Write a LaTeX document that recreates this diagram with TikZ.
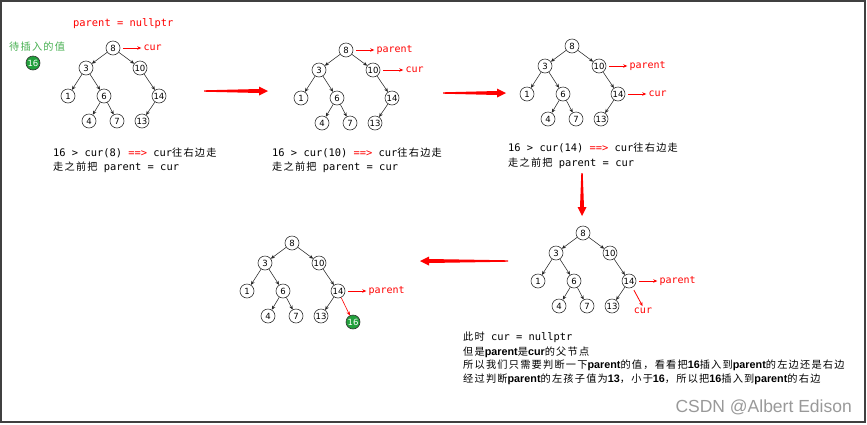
\documentclass[tikz,border=0pt]{standalone}
\usepackage{fontspec}
\setmainfont{DejaVu Sans}
\setmonofont{DejaVu Sans Mono}
\newfontfamily\zhfont[Scale=0.98,LetterSpace=12]{Noto Sans CJK SC}
\newfontfamily\lsans{Liberation Sans}
\usetikzlibrary{arrows.meta,positioning}
\definecolor{insgreen}{RGB}{34,160,60}
\definecolor{txtgreen}{RGB}{70,175,80}
\definecolor{hotred}{RGB}{255,0,0}
\newcommand{\zhtxt}[1]{{\zhfont #1}}
\newcommand{\lb}[1]{{\lsans\bfseries\fontsize{10.8}{12}\selectfont #1}}
\tikzset{
  num/.style={circle, draw=black!80, line width=0.6pt, minimum size=14pt, inner sep=0pt, font=\fontsize{8.5}{8.5}\selectfont},
  ins/.style={num, fill=insgreen, text=white},
  edge/.style={black!85, line width=0.55pt, -{Stealth[length=4pt,width=3.5pt]}},
  lbl/.style={text=hotred, inner sep=1pt, font=\ttfamily\fontsize{10}{12}\selectfont},
  lblarrow/.style={hotred, line width=0.8pt, -{Stealth[length=4pt,width=3.5pt]}, shorten <=3pt, shorten >=1pt},
  note/.style={anchor=west, inner sep=0pt, font=\ttfamily\fontsize{10.4}{12}\selectfont},
}
% the search tree, root at (#2,#3), node names prefixed with #1
\newcommand{\bstree}[3]{%
  \begin{scope}[shift={(#2,#3)}]
  \node[num] (#1n8) at (0,0) {8};
  \node[num] (#1n3) at (-27,20) {3};
  \node[num] (#1n10) at (27,20) {10};
  \node[num] (#1n1) at (-45,48) {1};
  \node[num] (#1n6) at (-9,48) {6};
  \node[num] (#1n14) at (46,48) {14};
  \node[num] (#1n4) at (-24,73) {4};
  \node[num] (#1n7) at (4,73) {7};
  \node[num] (#1n13) at (29,73) {13};
  \draw[edge] (#1n8) -- (#1n3);
  \draw[edge] (#1n8) -- (#1n10);
  \draw[edge] (#1n3) -- (#1n1);
  \draw[edge] (#1n3) -- (#1n6);
  \draw[edge] (#1n6) -- (#1n4);
  \draw[edge] (#1n6) -- (#1n7);
  \draw[edge] (#1n10) -- (#1n14);
  \draw[edge] (#1n14) -- (#1n13);
  \end{scope}}
% tapered red arrow: start #1, length #2, angle #3
\newcommand{\fatarrow}[3]{%
  \fill[hotred, shift={#1}, rotate=#3] (0,-0.7) -- (#2-9,-2) -- (#2-9,-4.5) -- (#2,0) -- (#2-9,4.5) -- (#2-9,2) -- (0,0.7) -- cycle;}

\begin{document}
\begin{tikzpicture}[x=1pt,y=-1pt]
\useasboundingbox (0,0) rectangle (867,424);
\draw[black!75, line width=1.2pt] (1,1) rectangle (865,422);

% step 1
\node[note, text=hotred] (null) at (73,24) {parent = nullptr};
\node[anchor=west, inner sep=0pt, text=txtgreen, font=\fontsize{10.4}{12}\selectfont] (wait) at (9,47) {\zhtxt{待插入的值}};
\node[ins] (val) at (33,63) {16};
\bstree{t1}{113}{48}
\node[lbl, right=22pt of t1n8] (t1cur) {cur};
\draw[lblarrow] (t1n8) -- (t1cur);
\node[note] (t1a) at (53,153) {16 > cur(8) \textcolor{hotred}{==>} cur\zhtxt{往右边走}};
\node[note] (t1b) at (53,167) {\zhtxt{走之前把} parent = cur};

% step 2
\coordinate (a1) at (204,91);
\fatarrow{(a1)}{64}{0}
\bstree{t2}{346}{50}
\node[lbl, right=22pt of t2n8] (t2par) {parent};
\draw[lblarrow] (t2n8) -- (t2par);
\node[lbl, right=24pt of t2n10] (t2cur) {cur};
\draw[lblarrow] (t2n10) -- (t2cur);
\node[note] (t2a) at (272,153) {16 > cur(10) \textcolor{hotred}{==>} cur\zhtxt{往右边走}};
\node[note] (t2b) at (272,167) {\zhtxt{走之前把} parent = cur};

% step 3
\coordinate (a2) at (443,93);
\fatarrow{(a2)}{63}{0}
\bstree{t3}{572}{46}
\node[lbl, right=22pt of t3n10] (t3par) {parent};
\draw[lblarrow] (t3n10) -- (t3par);
\node[lbl, right=22pt of t3n14] (t3cur) {cur};
\draw[lblarrow] (t3n14) -- (t3cur);
\node[note] (t3a) at (508,148) {16 > cur(14) \textcolor{hotred}{==>} cur\zhtxt{往右边走}};
\node[note] (t3b) at (508,163) {\zhtxt{走之前把} parent = cur};

% step 4
\coordinate (a3) at (582,173);
\fatarrow{(a3)}{43}{-90}
\bstree{t4}{583}{233}
\node[lbl, right=22pt of t4n14] (t4par) {parent};
\draw[lblarrow] (t4n14) -- (t4par);
\node[lbl] (t4cur) at (643,311) {cur};
\draw[lblarrow] (t4n14) -- (t4cur.north);
\node[note] (t4a) at (463,337) {\zhtxt{此时} cur = nullptr};
\node[note] (t4b) at (463,352) {\zhtxt{但是}\lb{parent}\zhtxt{是}\lb{cur}\zhtxt{的父节点}};
\node[note] (t4c) at (463,365) {\zhtxt{所以我们只需要判断一下}\lb{parent}\zhtxt{的值，看看把}\lb{16}\zhtxt{插入到}\lb{parent}\zhtxt{的左边还是右边}};
\node[note] (t4d) at (463,379) {\zhtxt{经过判断}\lb{parent}\zhtxt{的左孩子值为}\lb{13}\zhtxt{，小于}\lb{16}\zhtxt{，所以把}\lb{16}\zhtxt{插入到}\lb{parent}\zhtxt{的右边}};

% step 5
\coordinate (a4) at (508,261);
\fatarrow{(a4)}{88}{180}
\bstree{t5}{292}{243}
\node[lbl, right=22pt of t5n14] (t5par) {parent};
\draw[lblarrow] (t5n14) -- (t5par);
\node[ins] (t5ins) at (353,322) {16};
\draw[hotred, line width=0.6pt, -{Stealth[length=4pt,width=3.5pt]}] (t5n14) -- (t5ins);

\node[anchor=east, inner sep=0pt, text=black!40, font=\lsans\fontsize{17.5}{20}\selectfont] (mark) at (852,407) {CSDN @Albert Edison};
\end{tikzpicture}
\end{document}
